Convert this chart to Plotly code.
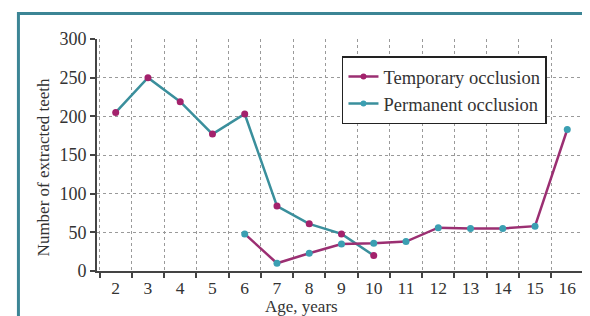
import plotly.graph_objects as go

age_temp = [2, 3, 4, 5, 6, 7, 8, 9, 10]
temp_vals = [205, 250, 219, 177, 203, 84, 61, 48, 20]
age_perm = [6, 7, 8, 9, 10, 11, 12, 13, 14, 15, 16]
perm_vals = [48, 10, 23, 35, 36, 38, 56, 55, 55, 58, 183]
x_ticks = list(range(2, 17))
y_ticks = [0, 50, 100, 150, 200, 250, 300]
names = ["Temporary occlusion", "Permanent occlusion"]

MAG = "#9b2f72"
MAGM = "#a3226c"
TEAL = "#3a8f9c"
TEALM = "#3b9fb2"
FONT = "Liberation Serif"

fig = go.Figure()
fig.add_trace(go.Scatter(x=age_temp, y=temp_vals, mode="lines+markers",
                         line=dict(color=TEAL, width=2.5),
                         marker=dict(color=MAGM, size=7),
                         showlegend=False, cliponaxis=False))
fig.add_trace(go.Scatter(x=age_perm, y=perm_vals, mode="lines+markers",
                         line=dict(color=MAG, width=2.5),
                         marker=dict(color=TEALM, size=7),
                         showlegend=False, cliponaxis=False))
# legend entries
fig.add_trace(go.Scatter(x=[None], y=[None], mode="lines+markers", name=names[0],
                         line=dict(color=MAG, width=2.5), marker=dict(color=MAGM, size=6)))
fig.add_trace(go.Scatter(x=[None], y=[None], mode="lines+markers", name=names[1],
                         line=dict(color=TEAL, width=2.5), marker=dict(color=TEALM, size=6)))

half = [v - 0.5 for v in x_ticks] + [x_ticks[-1] + 0.5]

fig.update_layout(
    width=582, height=308,
    margin=dict(l=89, r=5, t=31, b=45),
    paper_bgcolor="white", plot_bgcolor="white",
    font=dict(family=FONT, size=18, color="#333333"),
    xaxis=dict(range=[1.42, 16.55], tickvals=x_ticks, ticktext=[str(v) for v in x_ticks],
               ticks="", showgrid=False, zeroline=False,
               showline=True, linecolor="#444444", linewidth=2,
               tickfont=dict(family=FONT, size=17.5, color="#333333"),
               minor=dict(tickvals=half, ticks="outside", ticklen=5, tickcolor="#444444",
                          tickwidth=2, showgrid=True, gridcolor="#9a9a9a",
                          griddash="dot", gridwidth=1.2)),
    yaxis=dict(range=[0, 300], tickvals=y_ticks, ticks="outside", ticklen=5,
               tickcolor="#444444", tickwidth=2,
               showgrid=True, gridcolor="#9a9a9a", griddash="dot", gridwidth=1.2,
               zeroline=False, showline=True, linecolor="#444444", linewidth=2,
               tickfont=dict(family=FONT, size=18, color="#333333")),
    legend=dict(x=0.502, y=0.925, xanchor="left", yanchor="top",
                bgcolor="white", bordercolor="#222222", borderwidth=1.5,
                font=dict(family=FONT, size=18.5, color="#333333"),
                tracegroupgap=0, itemwidth=30),
    shapes=[dict(type="rect", xref="paper", yref="paper",
                 x0=-0.161, x1=1.2, y0=-0.4, y1=1.11,
                 line=dict(color="#3c8595", width=3), layer="below")],
    annotations=[
        dict(text="Age, years", xref="paper", yref="paper", x=0.42, y=-0.155,
             showarrow=False, xanchor="center", yanchor="middle",
             font=dict(family=FONT, size=17, color="#333333")),
        dict(text="Number of extracted teeth", xref="paper", yref="paper",
             x=-0.11, y=0.448, textangle=-90, showarrow=False,
             xanchor="center", yanchor="middle",
             font=dict(family=FONT, size=17, color="#333333")),
    ],
)
fig.write_html("out.html")
